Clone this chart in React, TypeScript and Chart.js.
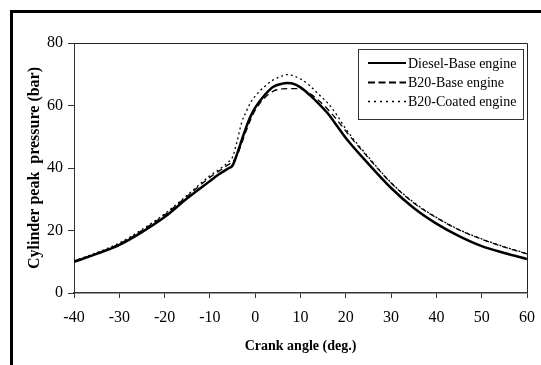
import React, { useEffect, useRef } from "react";
import { Chart, registerables } from "chart.js";

Chart.register(...registerables);

const crankAngles = [-40, -35, -30, -25, -20, -15, -10, -8, -6, -5, -4, -3, -2, -1, 0, 2, 4, 6, 7, 8, 10, 12, 14, 16, 18, 20, 25, 30, 35, 40, 45, 50, 55, 60];
const dieselBase = [10.0, 12.5, 15.4, 19.5, 24.3, 30.3, 35.8, 38, 39.8, 40.8, 44.5, 48.8, 53, 56.6, 59.3, 63.2, 66, 67, 67.2, 67.1, 65.8, 63.4, 60.6, 57.5, 53.6, 49.6, 41.3, 33.6, 27.2, 22.2, 18.2, 15.0, 12.8, 10.9];
const b20Base = [10.2, 12.7, 15.7, 20, 25, 31, 37, 39, 41, 42, 44, 47.8, 51.8, 55.5, 58.5, 62.3, 64.6, 65.3, 65.4, 65.4, 65.3, 63.9, 61.6, 58.8, 55.5, 51.8, 43.2, 35.2, 28.8, 24.1, 20.2, 17.2, 14.7, 12.5];
const b20Coated = [10.3, 12.9, 16, 20.3, 25.3, 31.3, 37.5, 39.5, 41.8, 43.5, 48.5, 54.5, 58, 61, 63, 66, 68.2, 69.5, 69.9, 69.7, 68.5, 66.4, 63.6, 60.8, 57, 52.5, 43.5, 35.3, 29, 24.2, 20.3, 17.3, 14.8, 12.6];
const seriesLabels = ["Diesel-Base engine", "B20-Base engine", "B20-Coated engine"];
const xTitle = "Crank angle (deg.)";
const yTitle = "Cylinder peak  pressure (bar)";

const FONT = "'Liberation Serif', 'Times New Roman', serif";

export default function App() {
  const ref = useRef<HTMLCanvasElement | null>(null);
  useEffect(() => {
    const canvas = ref.current;
    if (!canvas) return;
    const toPts = (vals: number[]) => crankAngles.map((x, i) => ({ x, y: vals[i] }));

    const framePlugin = {
      id: "frameAndLegend",
      afterDraw(chart: any) {
        const ctx = chart.ctx;
        const a = chart.chartArea;
        ctx.save();
        ctx.strokeStyle = "#222";
        ctx.lineWidth = 1;
        ctx.beginPath();
        ctx.moveTo(a.left, a.top + 0.5);
        ctx.lineTo(a.right + 0.5, a.top + 0.5);
        ctx.lineTo(a.right + 0.5, a.bottom);
        ctx.stroke();
        // legend
        const bx = 358.5, by = 49.5, bw = 165, bh = 70;
        ctx.fillStyle = "#fff";
        ctx.fillRect(bx, by, bw, bh);
        ctx.strokeStyle = "#333";
        ctx.strokeRect(bx, by, bw, bh);
        const rows = [63, 82.5, 101.5];
        const dashes = [[], [7, 3.5], [2, 4]];
        const widths = [2, 2, 1.5];
        ctx.font = `14px ${FONT}`;
        ctx.textBaseline = "middle";
        ctx.textAlign = "left";
        rows.forEach((yy, i) => {
          ctx.beginPath();
          ctx.setLineDash(dashes[i]);
          ctx.lineWidth = widths[i];
          ctx.strokeStyle = "#000";
          ctx.moveTo(368, yy);
          ctx.lineTo(406, yy);
          ctx.stroke();
          ctx.setLineDash([]);
          ctx.fillStyle = "#000";
          ctx.fillText(chart.data.datasets[i].label, 408, yy + 1);
        });
        ctx.restore();
      },
    };

    const chart = new Chart(canvas, {
      type: "line",
      data: {
        datasets: [
          { label: seriesLabels[0], data: toPts(dieselBase), borderColor: "#000", borderWidth: 2.5, pointRadius: 0, cubicInterpolationMode: "monotone", fill: false },
          { label: seriesLabels[1], data: toPts(b20Base), borderColor: "#000", borderWidth: 1.3, borderDash: [6, 4], pointRadius: 0, cubicInterpolationMode: "monotone", fill: false },
          { label: seriesLabels[2], data: toPts(b20Coated), borderColor: "#000", borderWidth: 1.3, borderDash: [2, 3], pointRadius: 0, cubicInterpolationMode: "monotone", fill: false },
        ],
      },
      options: {
        responsive: false,
        devicePixelRatio: 1,
        animation: false,
        layout: { padding: { left: 0, top: 43, right: 14, bottom: 0 } },
        plugins: { legend: { display: false }, tooltip: { enabled: false } },
        scales: {
          x: {
            type: "linear",
            min: -40,
            max: 60,
            ticks: { stepSize: 10, color: "#000", font: { family: FONT, size: 16 }, padding: 10, maxRotation: 0 },
            grid: { display: true, drawOnChartArea: false, drawTicks: true, tickLength: 5, color: "#333" },
            border: { display: true, color: "#333", width: 1.5 },
            title: { display: true, text: xTitle, color: "#000", font: { family: FONT, size: 14, weight: "bold" }, padding: { top: 0, bottom: 10 } },
            afterFit(scale: any) {
              scale.height = 72;
              scale.paddingLeft = 0;
              scale.paddingRight = 0;
            },
          },
          y: {
            min: 0,
            max: 80,
            ticks: { stepSize: 20, color: "#000", font: { family: FONT, size: 16 }, padding: 5 },
            grid: { display: true, drawOnChartArea: false, drawTicks: true, tickLength: 6, color: "#333" },
            border: { display: true, color: "#333", width: 1 },
            title: { display: true, text: yTitle, color: "#000", font: { family: FONT, size: 16, weight: "bold" }, padding: { top: 25, bottom: 0 } },
            afterFit(scale: any) {
              scale.width = 74;
              scale.paddingTop = 0;
              scale.paddingBottom = 0;
            },
          },
        },
      } as any,
      plugins: [framePlugin],
    });
    return () => chart.destroy();
  }, []);

  return (
    <div style={{ position: "fixed", left: 0, top: 0, width: 541, height: 365, overflow: "hidden", background: "#fff" }}>
      <canvas ref={ref} width={541} height={365} style={{ display: "block" }} />
      <div style={{ position: "absolute", left: 10, top: 10, width: 600, height: 400, borderTop: "3px solid #000", borderLeft: "3px solid #000", pointerEvents: "none" }} />
    </div>
  );
}
